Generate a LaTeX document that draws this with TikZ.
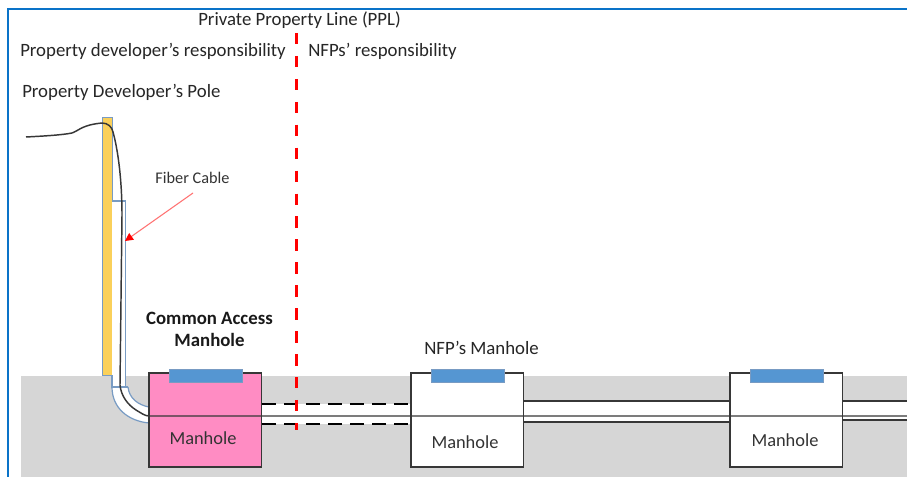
\documentclass[tikz,border=0pt]{standalone}
\usepackage{fontspec}
\setmainfont{Carlito}
\usetikzlibrary{arrows.meta}
\definecolor{frameblue}{RGB}{10,115,200}
\definecolor{groundgrey}{RGB}{214,214,214}
\definecolor{polegold}{RGB}{250,208,90}
\definecolor{edgeblue}{RGB}{120,155,195}
\definecolor{coverblue}{RGB}{85,150,210}
\definecolor{holepink}{RGB}{255,140,195}
\definecolor{inkdark}{RGB}{55,55,55}
\tikzset{
  x=0.75pt,y=-0.75pt,
  label text/.style={font=\fontsize{14.1pt}{16pt}\selectfont,text=black!85,inner sep=0pt,anchor=west},
  hole/.style={draw=inkdark,line width=1.1pt,inner sep=0pt,outer sep=0pt,anchor=north west,minimum width=84.5pt,minimum height=70.5pt},
  cover/.style={fill=coverblue,draw=edgeblue,line width=0.5pt,inner sep=0pt,outer sep=0pt,anchor=north west,minimum width=55.2pt,minimum height=9.8pt},
  hole text/.style={font=\fontsize{13.8pt}{16pt}\selectfont,text=black!80,inner sep=0pt},
  duct/.style={draw=inkdark,line width=0.9pt},
  dashblack/.style={draw=black,line width=2.2pt,dash pattern=on 10.5pt off 6pt},
  conduit/.style={edgeblue,line width=0.9pt},
}
\begin{document}
\begin{tikzpicture}
\useasboundingbox (0,0) rectangle (907,477);
\fill[white] (0,0) rectangle (907,477);
% ground
\fill[groundgrey] (21,376) rectangle (907,477);
% frame
\draw[frameblue,line width=1.8pt] (8,477) -- (8,9) -- (907,9);
% pole
\draw[fill=polegold,draw=edgeblue,line width=0.7pt] (102,117) rectangle (112,375);
% conduit on the pole
\fill[white] (112,201) -- (125.5,201) -- (125.5,387) -- (128,387) .. controls (129,398) and (138,405) .. (149,407) -- (149,423) .. controls (128,421) and (112,408) .. (112,387) -- cycle;
\draw[conduit] (112,201) -- (125.5,201) -- (125.5,387);
\draw[conduit] (112,375) -- (112,387) -- (128,387);
\draw[conduit] (128,387) .. controls (129,398) and (138,405) .. (149,407);
\draw[conduit] (149,423) .. controls (128,421) and (112,408) .. (112,387);
% band between manholes
\fill[white] (262,404) rectangle (411,424);
\fill[white] (523,401) rectangle (730,422);
\fill[white] (843,401) rectangle (907,420);
% manholes
\node[hole,fill=holepink] (m1) at (149,373) {};
\node[hole,fill=white] (m2) at (411,373) {};
\node[hole,fill=white] (m3) at (730,373) {};
% ducts
\coordinate (d1a) at (262,404); \coordinate (d1b) at (411,404);
\coordinate (d2a) at (262,424); \coordinate (d2b) at (411,424);
\draw[dashblack] (d1a) -- (d1b);
\draw[dashblack] (d2a) -- (d2b);
\draw[duct] (523,401) -- (730,401);
\draw[duct] (523,422) -- (730,422);
\draw[duct] (843,401) -- (907,401);
\draw[duct] (843,420) -- (907,420);
% covers
\node[cover] (c1) at (169,369) {};
\node[cover] (c2) at (431,369) {};
\node[cover] (c3) at (750,369) {};
% fiber cable
\draw[inkdark,line width=1.1pt] (26,137) .. controls (45,136) and (62,135) .. (72,133)
  .. controls (80,130) and (82,125) .. (102,123)
  .. controls (108,123) and (112,127) .. (113,132)
  .. controls (118,150) and (122,180) .. (122,215)
  -- (120,385) .. controls (121,396) and (128,405) .. (136,410)
  .. controls (141,413) and (145,416) .. (149,416) -- (907,416);
% property line
\coordinate (ppl1) at (296.5,33); \coordinate (ppl2) at (296.5,430);
\draw[red,line width=2.3pt,dash pattern=on 8.6pt off 8.6pt] (ppl1) -- (ppl2);
% arrow
\coordinate (arrow1) at (193,193); \coordinate (arrow2) at (125,241);
\draw[red!55,line width=0.8pt,-{Triangle[fill=red,color=red,length=6pt,width=6pt]}] (arrow1) -- (arrow2);
% texts
\node[label text] (t1) at (198,20) {Private Property Line (PPL)};
\node[label text] (t2) at (20,51) {Property developer’s responsibility};
\node[label text] (t3) at (308,51) {NFPs’ responsibility};
\node[label text] (t4) at (22,92) {Property Developer’s Pole};
\node[font=\fontsize{12.2pt}{14pt}\selectfont,text=black!80,inner sep=0pt] (t5) at (192.5,178) {Fiber Cable};
\node[font=\bfseries\fontsize{14.1pt}{16.5pt}\selectfont,align=center,text=black!90,inner sep=0pt] (t6) at (209.5,329) {Common Access\\Manhole};
\node[label text] (t7) at (424,348) {NFP’s Manhole};
\node[hole text] (h1) at (203,438) {Manhole};
\node[hole text] (h2) at (465,442) {Manhole};
\node[hole text] (h3) at (785,440) {Manhole};
\end{tikzpicture}
\end{document}
